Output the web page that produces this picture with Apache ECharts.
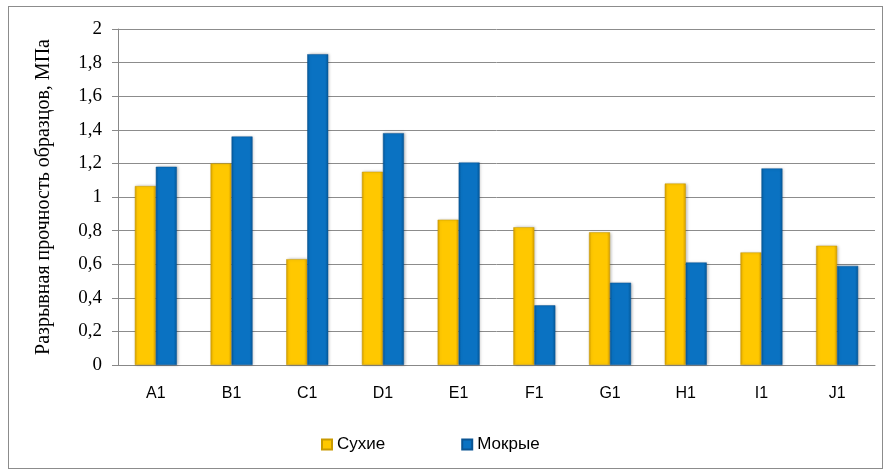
<!DOCTYPE html>
<html>
<head>
<meta charset="utf-8">
<script src="https://cdn.jsdelivr.net/npm/echarts@6/dist/echarts.min.js"></script>
<style>
html, body { margin: 0; padding: 0; background: #fff; }
#chart { width: 890px; height: 474px; }
#frame { position: absolute; left: 8px; top: 6px; width: 873px; height: 461px; border: 1px solid #8c8c8c; pointer-events: none; }
</style>
</head>
<body>
<div id="chart"></div>
<div id="frame"></div>
<script>
var categories = ['A1', 'B1', 'C1', 'D1', 'E1', 'F1', 'G1', 'H1', 'I1', 'J1'];
var dryValues = [1.065, 1.20, 0.63, 1.15, 0.865, 0.82, 0.79, 1.08, 0.67, 0.71];
var wetValues = [1.18, 1.36, 1.85, 1.38, 1.205, 0.355, 0.49, 0.61, 1.17, 0.59];

var myChart = echarts.init(document.getElementById('chart'));

// horizontal shading so the bars look a bit like the office-style bevel
function barColor(mid, dark) {
    return new echarts.graphic.LinearGradient(0, 0, 1, 0, [
        { offset: 0, color: dark },
        { offset: 0.12, color: mid },
        { offset: 0.85, color: mid },
        { offset: 1, color: dark }
    ]);
}

var sans = '"Liberation Sans", Arial, sans-serif';
var serif = '"Liberation Serif", "Times New Roman", serif';

var option = {
    animation: false,
    grid: { left: 118, right: 15, top: 29, bottom: 109 },
    legend: {
        top: 431,
        left: 316,
        itemWidth: 10,
        itemHeight: 10,
        itemGap: 76,
        icon: 'rect',
        textStyle: { fontFamily: sans, fontSize: 17, color: '#000' },
        data: ['Сухие', 'Мокрые']
    },
    xAxis: {
        type: 'category',
        data: categories,
        axisLine: { lineStyle: { color: '#888' } },
        axisTick: { length: 6, lineStyle: { color: '#888' } },
        axisLabel: { margin: 21, fontFamily: sans, fontSize: 16, color: '#000' }
    },
    yAxis: {
        type: 'value',
        min: 0,
        max: 2,
        interval: 0.2,
        name: 'Разрывная прочность образцов, МПа',
        nameLocation: 'middle',
        nameGap: 64,
        nameTextStyle: { fontFamily: serif, fontSize: 20, color: '#000' },
        axisLine: { show: true, lineStyle: { color: '#888' } },
        axisTick: { show: true, length: 6, lineStyle: { color: '#888' } },
        splitLine: { lineStyle: { color: '#8c8c8c' } },
        axisLabel: {
            margin: 16,
            fontFamily: serif,
            fontSize: 19,
            color: '#000',
            formatter: function (v) {
                return String(v).replace('.', ',');
            }
        }
    },
    series: [
        {
            name: 'Сухие',
            type: 'bar',
            data: dryValues,
            barWidth: 21,
            barGap: '0%',
            itemStyle: {
                color: barColor('#ffc800', '#d9a100'),
                borderColor: '#c99a00',
                borderWidth: 0.5,
                shadowColor: 'rgba(0,0,0,0.25)',
                shadowBlur: 3,
                shadowOffsetX: 1
            }
        },
        {
            name: 'Мокрые',
            type: 'bar',
            data: wetValues,
            barWidth: 21,
            itemStyle: {
                color: barColor('#0a72c2', '#055a9c'),
                borderColor: '#0a5594',
                borderWidth: 0.5,
                shadowColor: 'rgba(0,0,0,0.25)',
                shadowBlur: 3,
                shadowOffsetX: 1
            }
        }
    ]
};

myChart.setOption(option);
</script>
</body>
</html>
